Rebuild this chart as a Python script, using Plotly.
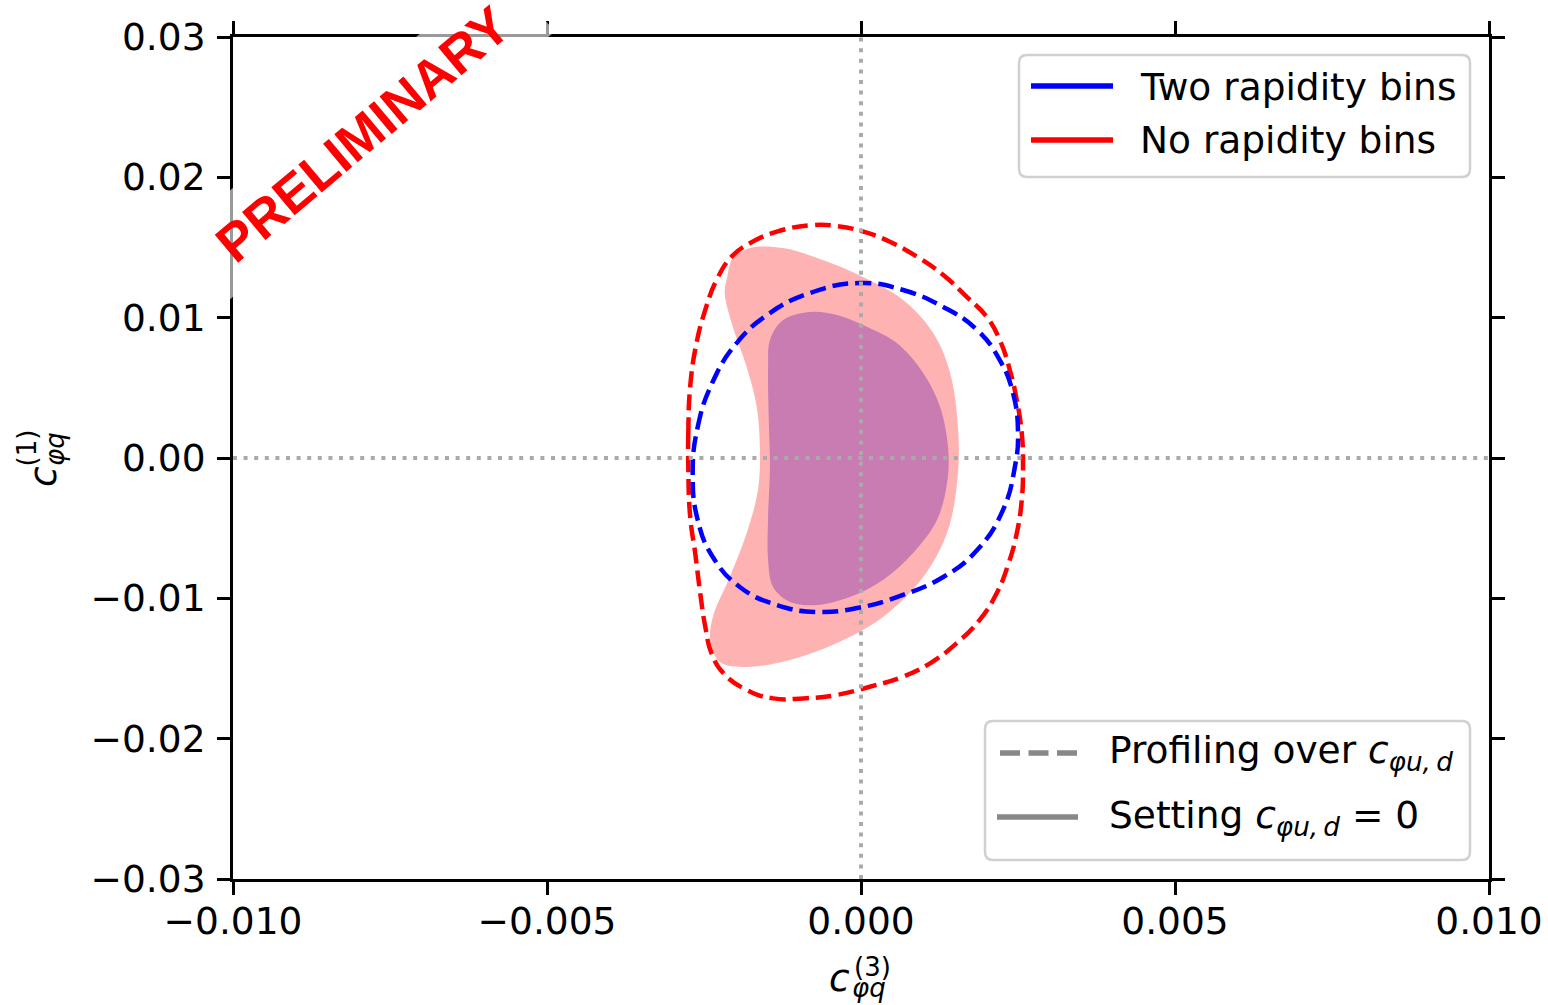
import math
import plotly.graph_objects as go

# ---------------- data ----------------
# Two rapidity bins, profiling over c_phi u,d (blue dashed)
two_prof_x = [-0.00268, -0.00260, -0.00237, -0.00198, -0.00145, -0.00081, -0.00002, 0.00067,
              0.00131, 0.00185, 0.00221, 0.00242, 0.00250, 0.00245, 0.00226, 0.00185,
              0.00131, 0.00057, -0.00006, -0.00070, -0.00134, -0.00193, -0.00236, -0.00260]
two_prof_y = [-0.00107, 0.00221, 0.00534, 0.00819, 0.01033, 0.01176, 0.01247, 0.01197,
              0.01076, 0.00912, 0.00698, 0.00463, 0.00178, -0.00064, -0.00371, -0.00656,
              -0.00848, -0.00991, -0.01069, -0.01097, -0.01048, -0.00919, -0.00705, -0.00442]

# No rapidity bins, profiling (red dashed)
no_prof_x = [-0.00275, -0.00275, -0.00272, -0.00262, -0.00248, -0.00230, -0.00206, -0.00177,
             -0.00134, -0.00076, -0.00039, 0.00004, 0.00046, 0.00089, 0.00131, 0.00168,
             0.00200, 0.00221, 0.00237, 0.00248, 0.00256, 0.00258, 0.00256, 0.00248,
             0.00235, 0.00216, 0.00189, 0.00152, 0.00110, 0.00067, 0.00014, -0.00039,
             -0.00092, -0.00140, -0.00182, -0.00219, -0.00238, -0.00248, -0.00256, -0.00264,
             -0.00272]
no_prof_y = [-0.00062, 0.00176, 0.00508, 0.00817, 0.01055, 0.01268, 0.01435, 0.01530,
             0.01613, 0.01660, 0.01653, 0.01613, 0.01541, 0.01435, 0.01304, 0.01150,
             0.01007, 0.00841, 0.00627, 0.00413, 0.00176, -0.00062, -0.00299, -0.00537,
             -0.00751, -0.00964, -0.01154, -0.01321, -0.01463, -0.01558, -0.01630, -0.01689,
             -0.01713, -0.01713, -0.01653, -0.01534, -0.01392, -0.01202, -0.00964, -0.00679,
             -0.00418]

# Two rapidity bins, setting c_phi u,d = 0 (blue filled)
two_set_x = [0.00139, 0.00137, 0.00121, 0.00083, 0.00035, -0.00018, -0.00070, -0.00113,
             -0.00140, -0.00148, -0.00148, -0.00145, -0.00147, -0.00148, -0.00145, -0.00124,
             -0.00081, -0.00038, 0.00010, 0.00057, 0.00099, 0.00126]
two_set_y = [0.00057, -0.00178, -0.00442, -0.00677, -0.00869, -0.00991, -0.01048, -0.01026,
             -0.00919, -0.00727, -0.00420, -0.00064, 0.00292, 0.00648, 0.00841, 0.00983,
             0.01040, 0.01019, 0.00934, 0.00819, 0.00606, 0.00363]

# No rapidity bins, setting c_phi u,d = 0 (red filled)
no_set_x = [0.00155, 0.00153, 0.00137, 0.00099, 0.00035, -0.00038, -0.00113, -0.00182,
            -0.00225, -0.00240, -0.00236, -0.00209, -0.00182, -0.00164, -0.00161, -0.00166,
            -0.00182, -0.00204, -0.00217, -0.00213, -0.00204, -0.00177, -0.00124, -0.00061,
            0.00003, 0.00067, 0.00115, 0.00142]
no_set_y = [0.00178, -0.00178, -0.00534, -0.00848, -0.01133, -0.01318, -0.01439, -0.01489,
            -0.01454, -0.01297, -0.01133, -0.00848, -0.00534, -0.00228, 0.00057, 0.00363,
            0.00648, 0.00933, 0.01176, 0.01290, 0.01425, 0.01496, 0.01496, 0.01411,
            0.01290, 0.01126, 0.00891, 0.00606]

x_ticks = [-0.010, -0.005, 0.000, 0.005, 0.010]
y_ticks = [-0.03, -0.02, -0.01, 0.00, 0.01, 0.02, 0.03]
x_range = [-0.010, 0.010]
y_range = [-0.03, 0.03]

legend1_labels = ["Two rapidity bins", "No rapidity bins"]
legend2_labels = ["Profiling over <i>c</i><sub><i>φu,\u2009d</i></sub>",
                  "Setting <i>c</i><sub><i>φu,\u2009d</i></sub> = 0"]

# ---------------- layout geometry (pixels) ----------------
W, H = 1548, 1005
L, R, T, B = 233, 1489, 37, 879
FONT = "DejaVu Sans"
FS = 37.5


def px(xp, yp):
    return ((xp - L) / (R - L), (B - yp) / (B - T))


def closed(xs, ys):
    return list(xs) + [xs[0]], list(ys) + [ys[0]]


def path_from_px(cmds):
    s = ""
    for cmd, ps in cmds:
        s += cmd + " " + " ".join("%.5f,%.5f" % px(a, b) for a, b in ps) + " "
    return s + "Z"


def rrect(x0, y0, x1, y1, r):
    return path_from_px([("M", [(x0 + r, y0)]), ("L", [(x1 - r, y0)]), ("Q", [(x1, y0), (x1, y0 + r)]),
                         ("L", [(x1, y1 - r)]), ("Q", [(x1, y1), (x1 - r, y1)]), ("L", [(x0 + r, y1)]),
                         ("Q", [(x0, y1), (x0, y1 - r)]), ("L", [(x0, y0 + r)]), ("Q", [(x0, y0), (x0 + r, y0)])])


def rotated_box(cx, cy, half_len, half_h, angle_deg):
    a = math.radians(angle_deg)
    ux, uy = math.cos(a), -math.sin(a)      # along text (screen coords, y down)
    nx, ny = math.sin(a), math.cos(a)       # perpendicular (towards lower right)
    c = [(cx - half_len * ux - half_h * nx, cy - half_len * uy - half_h * ny),
         (cx + half_len * ux - half_h * nx, cy + half_len * uy - half_h * ny),
         (cx + half_len * ux + half_h * nx, cy + half_len * uy + half_h * ny),
         (cx - half_len * ux + half_h * nx, cy - half_len * uy + half_h * ny)]
    return path_from_px([("M", [c[0]]), ("L", [c[1]]), ("L", [c[2]]), ("L", [c[3]])])


fig = go.Figure()

# filled regions (setting c = 0)
xs, ys = closed(two_set_x, two_set_y)
fig.add_trace(go.Scatter(x=xs, y=ys, mode="lines", fill="toself",
                         fillcolor="rgba(0,0,255,0.3)", line=dict(width=0, shape="spline", smoothing=1.0),
                         hoverinfo="skip", showlegend=False))
xs, ys = closed(no_set_x, no_set_y)
fig.add_trace(go.Scatter(x=xs, y=ys, mode="lines", fill="toself",
                         fillcolor="rgba(255,0,0,0.3)", line=dict(width=0, shape="spline", smoothing=1.0),
                         hoverinfo="skip", showlegend=False))
# dashed contours (profiling)
xs, ys = closed(no_prof_x, no_prof_y)
fig.add_trace(go.Scatter(x=xs, y=ys, mode="lines",
                         line=dict(color="#ff0000", width=4.5, dash="16px,7px", shape="spline", smoothing=1.3),
                         hoverinfo="skip", showlegend=False))
xs, ys = closed(two_prof_x, two_prof_y)
fig.add_trace(go.Scatter(x=xs, y=ys, mode="lines",
                         line=dict(color="#0000ff", width=4.5, dash="16px,7px", shape="spline", smoothing=1.3),
                         hoverinfo="skip", showlegend=False))

shapes = []
# dotted zero lines
shapes.append(dict(type="line", xref="x", yref="y", x0=0, x1=0, y0=y_range[0], y1=y_range[1],
                   line=dict(color="#aaaaaa", width=4, dash="4px,6.6px"), layer="above"))
shapes.append(dict(type="line", xref="x", yref="y", x0=x_range[0], x1=x_range[1], y0=0, y1=0,
                   line=dict(color="#aaaaaa", width=4, dash="4px,6.6px"), layer="above"))

# legend 1
shapes.append(dict(type="path", xref="paper", yref="paper", path=rrect(1019, 55, 1470, 177, 8),
                   fillcolor="rgba(255,255,255,0.8)", line=dict(color="#d0d0d0", width=2.5), layer="above"))
for yy, col in [(86, "#0000ff"), (140, "#ff0000")]:
    a = px(1031, yy); b = px(1113, yy)
    shapes.append(dict(type="line", xref="paper", yref="paper", x0=a[0], y0=a[1], x1=b[0], y1=b[1],
                       line=dict(color=col, width=5.5), layer="above"))
# legend 2
shapes.append(dict(type="path", xref="paper", yref="paper", path=rrect(985, 721, 1470, 860, 8),
                   fillcolor="rgba(255,255,255,0.8)", line=dict(color="#d0d0d0", width=2.5), layer="above"))
a = px(1000, 753); b = px(1077, 753)
shapes.append(dict(type="line", xref="paper", yref="paper", x0=a[0], y0=a[1], x1=b[0], y1=b[1],
                   line=dict(color="#888888", width=5.5, dash="20px,8.5px"), layer="above"))
a = px(997, 817); b = px(1078, 817)
shapes.append(dict(type="line", xref="paper", yref="paper", x0=a[0], y0=a[1], x1=b[0], y1=b[1],
                   line=dict(color="#888888", width=5.5), layer="above"))

# semi-transparent box behind the PRELIMINARY stamp
shapes.append(dict(type="path", xref="paper", yref="paper", path=rotated_box(362, 136, 215, 42, 39.5),
                   fillcolor="rgba(255,255,255,0.6)", line=dict(width=0), layer="above"))

annotations = []


def ann(text, xp, yp, size, xanchor="center", angle=0, color="black", family=FONT, **kw):
    p = px(xp, yp)
    d = dict(text=text, x=p[0], y=p[1], xref="paper", yref="paper", showarrow=False,
             xanchor=xanchor, yanchor="middle", textangle=angle,
             font=dict(family=family, size=size, color=color))
    d.update(kw)
    annotations.append(d)


ann(legend1_labels[0], 1138, 86.5, FS, xanchor="left")
ann(legend1_labels[1], 1138, 140, FS, xanchor="left")
ann(legend2_labels[0], 1107, 752.5, FS, xanchor="left")
ann(legend2_labels[1], 1107, 817.5, FS, xanchor="left")

# axis titles
ann("<i>c</i>", 839, 977.5, FS)
ann("(3)", 872, 967, 26)
ann("<i>φq</i>", 869, 988, 26)
ann("<i>c</i>", 43, 477, FS, angle=-90)
ann("(1)", 26, 448.5, 26, angle=-90)
ann("<i>φq</i>", 55, 449, 26, angle=-90)

# PRELIMINARY stamp
ann("<b>PRELIMINARY</b>", 362, 134, 53, angle=-40, color="#ff0000", family="Liberation Sans")

axis_common = dict(showgrid=False, zeroline=False, showline=True, linewidth=3, linecolor="black",
                   mirror="ticks", ticks="outside", ticklen=13, tickwidth=3, tickcolor="black",
                   automargin=False,
                   tickfont=dict(family=FONT, size=FS, color="black"))

fig.update_layout(
    width=W, height=H, margin=dict(l=L, r=W - R, t=T, b=H - B, pad=0, autoexpand=False),
    paper_bgcolor="white", plot_bgcolor="white", showlegend=False,
    xaxis=dict(range=x_range, tickvals=x_ticks, tickformat=".3f", ticklabelstandoff=-6, **axis_common),
    yaxis=dict(range=y_range, tickvals=y_ticks, tickformat=".2f", ticklabelstandoff=4, **axis_common),
    shapes=shapes, annotations=annotations,
)

fig.write_html("out.html")
